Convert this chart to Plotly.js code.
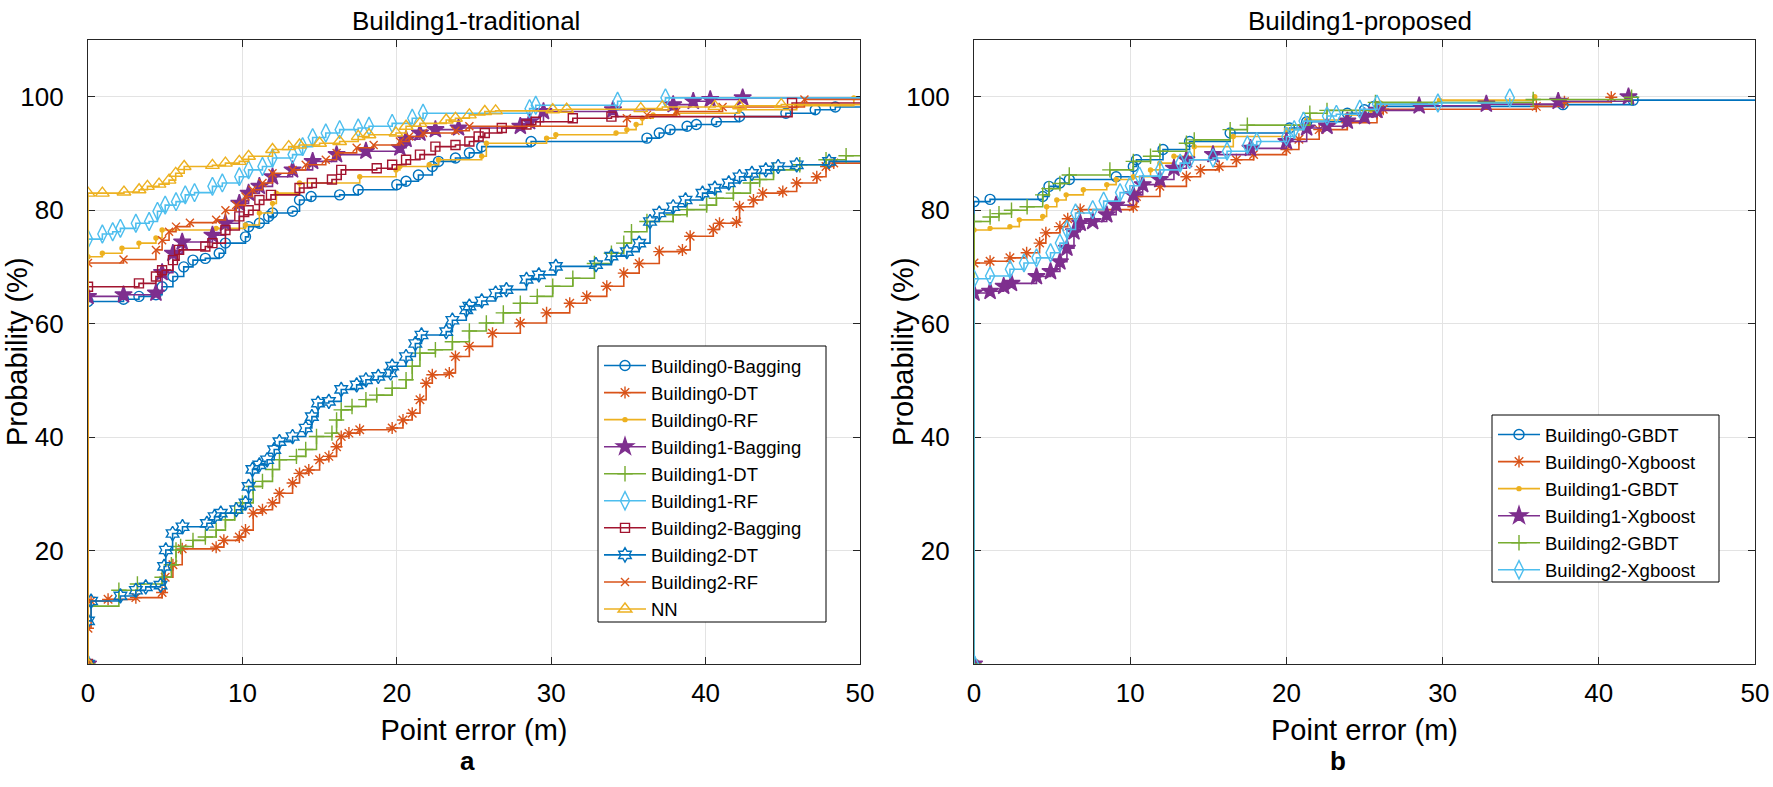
<!DOCTYPE html>
<html>
<head>
<meta charset="utf-8">
<script src="https://cdn.plot.ly/plotly-3.0.1.min.js"></script>
<style>
  html, body { margin: 0; padding: 0; background: #fff; }
  #chart { width: 1773px; height: 787px; }
</style>
</head>
<body>
<div id="chart"></div>
<script>
// empirical CDFs of point error (m) -> probability (%), read off the figure
// ---- a) Building1-traditional ----
const errB0Bagging = [0, 0, 2.3, 3.3, 4.4, 4.8, 5.5, 6.2, 6.8, 7.6, 8.5, 8.9, 10.2, 10.4, 11.1, 11.7, 11.95, 13.25, 13.7, 14.45, 16.3, 17.5, 20.0, 20.6, 21.4, 22.3, 22.7, 23.8, 24.7, 25.5, 28.7, 36.2, 37.0, 37.7, 38.8, 39.4, 40.7, 42.2, 45.2, 47.1, 48.4, 55];
const probB0Bagging = [0, 63.9, 64.3, 64.8, 65.1, 66.5, 68.3, 70.0, 71.2, 71.5, 72.4, 74.2, 75.3, 77.1, 77.7, 78.9, 79.5, 79.8, 81.8, 82.4, 82.7, 83.6, 84.5, 85.1, 86.2, 87.7, 88.6, 89.2, 90.1, 91.2, 92.1, 92.7, 93.6, 94.2, 94.8, 95.1, 95.6, 96.5, 97.1, 97.7, 98.2, 98.2];

const errB0DT = [0, 0, 0.2, 1.3, 3.1, 4.8, 5.0, 5.5, 6.1, 8.3, 8.8, 9.8, 10.2, 10.7, 11.3, 11.95, 12.4, 13.25, 13.7, 14.3, 15.0, 15.6, 16.1, 16.4, 16.9, 17.6, 19.7, 20.4, 21.0, 21.5, 21.9, 22.3, 23.4, 23.8, 24.7, 26.2, 28.0, 29.7, 31.2, 32.3, 33.6, 34.7, 35.7, 37.0, 38.5, 39.0, 40.5, 40.9, 42.0, 42.2, 43.1, 43.7, 45.0, 45.9, 47.2, 47.8, 48.3, 55];
const probB0DT = [0, 6.3, 11.1, 11.4, 11.7, 12.6, 15.3, 17.5, 20.3, 20.6, 21.8, 22.4, 23.6, 26.6, 27.2, 28.4, 30.1, 31.9, 33.6, 34.2, 36.0, 36.6, 38.3, 40.1, 40.7, 41.3, 41.6, 43.0, 44.2, 46.6, 49.5, 51.0, 51.3, 54.2, 56.0, 58.3, 60.1, 61.9, 63.6, 64.8, 66.6, 68.9, 70.6, 72.7, 73.0, 75.4, 76.6, 77.7, 77.9, 80.6, 81.8, 83.0, 83.3, 84.8, 85.9, 87.7, 88.3, 88.3];

const errB0RF = [0, 0, 0.93, 2.2, 3.3, 4.4, 4.8, 8.3, 10.2, 11.1, 11.95, 12.2, 13.7, 17.6, 19.95, 20.2, 22.1, 22.7, 25.5, 25.8, 29.7, 30.3, 34.2, 34.9, 35.5, 35.9, 36.6, 38.1, 42.2, 45.9, 49.6, 55];
const probB0RF = [0, 71.8, 72.4, 73.3, 74.2, 75.1, 76.5, 76.8, 77.4, 79.5, 81.2, 83.0, 84.8, 85.9, 87.1, 87.7, 88.0, 88.9, 89.5, 91.8, 92.7, 93.3, 93.6, 94.2, 95.1, 96.2, 96.8, 97.1, 97.7, 98.4, 99.8, 99.8];

const errB1Bagging = [0, 0, 2.3, 4.4, 4.8, 5.5, 6.1, 8.06, 8.9, 9.8, 10.4, 11.1, 11.95, 13.25, 14.55, 16.1, 18.0, 20.2, 20.6, 21.5, 22.5, 24.0, 28.0, 28.6, 29.5, 34.0, 37.9, 39.2, 40.3, 42.4, 55];
const probB1Bagging = [0, 64.8, 65.1, 65.4, 69.0, 72.4, 74.4, 75.6, 77.7, 81.2, 83.0, 84.2, 85.9, 87.1, 88.6, 89.8, 90.4, 91.0, 92.5, 93.6, 94.2, 94.5, 94.8, 95.6, 97.4, 97.7, 98.6, 99.2, 99.5, 99.8, 99.8];

const errB1DT = [0, 0, 2.0, 3.2, 4.8, 5.4, 5.7, 6.0, 6.8, 7.6, 8.3, 8.9, 9.5, 10.0, 10.7, 11.3, 11.95, 12.4, 13.5, 14.1, 14.8, 15.8, 16.1, 16.4, 17.1, 18.0, 18.7, 19.7, 20.6, 21.0, 21.5, 22.5, 23.6, 24.7, 25.8, 26.9, 28.0, 29.1, 30.1, 31.4, 32.8, 33.9, 34.7, 35.2, 36.2, 37.9, 38.8, 40.07, 40.7, 41.8, 42.9, 43.5, 44.4, 46.1, 47.8, 49.1, 55];
const probB1DT = [0, 10.2, 13.0, 14.1, 15.3, 17.5, 20.1, 20.7, 21.8, 22.4, 23.6, 25.4, 26.6, 28.4, 31.3, 32.2, 34.3, 36.0, 36.6, 37.8, 40.1, 40.7, 43.0, 44.8, 45.4, 46.6, 47.4, 48.6, 50.1, 52.5, 54.8, 55.4, 56.8, 58.7, 60.1, 61.9, 63.6, 64.8, 66.6, 68.0, 70.6, 72.4, 74.2, 76.2, 78.0, 79.2, 80.1, 80.9, 82.1, 83.0, 84.8, 85.4, 87.1, 88.0, 88.9, 89.6, 89.6];

const errB1RF = [0, 0, 0.93, 1.6, 2.1, 3.1, 3.96, 4.5, 5.0, 5.7, 6.3, 6.9, 8.06, 8.7, 9.8, 10.4, 11.3, 11.95, 13.25, 13.9, 14.55, 15.4, 16.3, 17.5, 18.2, 19.7, 21.0, 21.7, 28.6, 29.0, 34.3, 37.4, 55];
const probB1RF = [0, 74.9, 75.8, 76.2, 76.8, 77.7, 78.0, 79.8, 80.9, 81.5, 82.7, 83.1, 84.2, 84.8, 85.9, 87.1, 87.7, 89.2, 89.8, 91.2, 92.8, 93.6, 94.2, 94.5, 94.8, 95.3, 96.2, 97.1, 97.9, 98.5, 99.2, 99.8, 99.8];

const errB2Bagging = [0, 0, 3.3, 4.4, 4.8, 5.5, 5.9, 7.6, 8.06, 8.9, 9.8, 10.4, 11.1, 11.85, 13.7, 14.5, 15.8, 16.4, 18.7, 19.7, 20.6, 21.5, 22.5, 23.8, 24.7, 25.3, 25.7, 26.8, 28.4, 29.0, 31.4, 33.9, 45.6, 55];
const probB2Bagging = [0, 66.5, 67.1, 68.3, 69.4, 71.2, 73.0, 73.6, 74.2, 76.5, 78.9, 80.0, 81.8, 82.7, 83.9, 84.8, 85.4, 87.1, 87.4, 88.0, 88.9, 89.8, 91.2, 91.5, 92.1, 93.0, 93.6, 94.5, 95.1, 95.6, 96.2, 96.5, 98.9, 98.9];

const errB2DT = [0, 0, 0.2, 2.1, 3.1, 3.74, 4.7, 4.93, 5.04, 5.48, 6.12, 7.7, 8.2, 8.6, 9.6, 10.2, 10.4, 10.65, 11.1, 11.6, 12.06, 12.4, 13.25, 14.1, 14.5, 14.9, 15.6, 16.4, 17.4, 18.0, 18.8, 19.6, 19.7, 20.6, 21.2, 21.6, 23.2, 23.6, 24.5, 24.7, 25.5, 26.4, 27.1, 28.4, 29.2, 30.3, 32.9, 33.9, 34.9, 35.7, 36.4, 37.0, 37.9, 38.7, 39.8, 40.6, 41.5, 42.2, 43.0, 43.9, 44.7, 45.9, 48.0, 55];
const probB2DT = [0, 7.6, 11.1, 12.0, 13.0, 13.6, 13.9, 17.2, 20.1, 23.0, 24.2, 24.8, 26.0, 26.6, 27.2, 28.4, 31.3, 34.3, 35.1, 36.0, 37.8, 39.2, 40.1, 41.6, 43.6, 46.0, 46.3, 48.4, 49.2, 50.1, 50.7, 51.3, 52.5, 54.2, 56.5, 58.0, 58.6, 60.6, 62.4, 63.1, 64.0, 65.4, 66.0, 67.8, 68.6, 70.1, 70.4, 71.9, 72.7, 74.2, 78.0, 79.5, 80.6, 81.8, 83.0, 83.9, 84.8, 85.9, 86.5, 87.1, 87.7, 88.0, 88.6, 88.6];

const errB2RF = [0, 0, 2.3, 4.4, 4.8, 5.25, 5.7, 6.6, 8.3, 8.9, 9.6, 10.2, 10.65, 11.3, 11.95, 13.25, 14.1, 15.4, 16.1, 17.4, 18.5, 20.2, 20.8, 21.7, 23.8, 24.7, 34.9, 36.2, 38.1, 41.1, 46.4, 55];
const probB2RF = [0, 70.7, 71.3, 73.0, 74.7, 76.2, 77.1, 77.8, 78.3, 80.0, 80.9, 82.4, 83.6, 84.8, 86.5, 87.1, 88.0, 88.9, 90.1, 91.0, 91.5, 92.1, 93.0, 93.6, 94.0, 94.8, 96.2, 96.8, 97.4, 98.2, 99.5, 99.5];

const errNN = [0, 0, 0.93, 2.33, 3.31, 3.85, 4.6, 5.25, 5.68, 6.23, 8.06, 8.9, 9.8, 10.4, 11.95, 13.0, 13.7, 15.0, 16.3, 17.5, 18.2, 19.95, 20.6, 21.5, 23.2, 23.8, 24.7, 25.7, 26.4, 30.1, 31.0, 35.8, 37.2, 40.6, 42.2, 44.9, 55];
const probNN = [0, 83.0, 83.0, 83.2, 83.6, 84.2, 84.6, 85.3, 86.5, 87.7, 87.9, 88.3, 88.6, 89.5, 90.7, 91.2, 91.5, 91.8, 92.1, 93.0, 93.3, 93.6, 94.8, 95.3, 95.9, 96.2, 96.8, 97.4, 97.5, 97.7, 97.8, 97.9, 98.2, 98.3, 98.4, 98.6, 98.6];

// ---- b) Building1-proposed ----
const errG0GBDT = [0, 0, 1.03, 4.4, 4.8, 5.5, 6.1, 9.1, 10.2, 10.4, 12.1, 13.8, 16.4, 20.2, 21.3, 23.9, 25.0, 25.6, 37.7, 42.2, 55];
const probG0GBDT = [0, 81.5, 81.9, 82.4, 84.2, 84.8, 85.4, 85.9, 87.7, 88.9, 90.7, 92.1, 93.6, 94.5, 95.6, 97.1, 97.7, 98.3, 98.6, 99.4, 99.4];

const errG0Xgb = [0, 0, 1.03, 2.3, 3.37, 4.2, 4.6, 5.5, 6.0, 6.8, 10.2, 10.4, 11.9, 13.6, 14.5, 15.7, 16.8, 17.9, 20.0, 20.8, 22.1, 23.9, 25.8, 26.2, 36.0, 37.8, 40.8];
const probG0Xgb = [0, 70.7, 71.0, 71.6, 72.5, 74.2, 76.0, 77.1, 78.5, 80.1, 80.6, 82.4, 84.2, 85.9, 87.1, 87.7, 88.9, 89.8, 90.7, 92.5, 94.2, 95.4, 97.1, 97.8, 98.3, 99.1, 99.9];

const errG1GBDT = [0, 0, 1.03, 2.3, 2.9, 4.4, 4.65, 5.3, 5.9, 7.0, 8.5, 9.1, 10.2, 11.3, 11.9, 12.8, 14.1, 16.6, 20.0, 21.3, 23.9, 25.4, 26.0, 29.8, 35.9];
const probG1GBDT = [0, 76.5, 76.8, 77.1, 78.3, 78.9, 80.6, 81.8, 82.7, 83.6, 84.5, 85.4, 85.9, 87.1, 88.3, 89.5, 91.2, 93.0, 94.2, 95.9, 96.8, 97.7, 98.9, 99.4, 100];

const errG1Xgb = [0, 0, 1.03, 1.9, 2.4, 4.0, 4.9, 5.5, 5.95, 6.4, 6.8, 7.6, 8.5, 9.1, 10.2, 10.8, 11.9, 12.8, 13.6, 15.3, 17.7, 20.0, 21.3, 22.6, 23.9, 25.0, 25.8, 28.5, 32.8, 37.4, 41.9];
const probG1Xgb = [0, 65.4, 65.7, 66.6, 67.1, 68.3, 69.2, 70.9, 73.3, 76.2, 77.7, 78.0, 79.2, 80.9, 82.7, 84.5, 85.4, 87.4, 88.9, 89.8, 90.9, 92.1, 94.5, 94.8, 95.7, 96.5, 97.6, 98.4, 98.7, 99.2, 100];

const errG2GBDT = [0, 0, 1.03, 1.6, 2.4, 3.4, 4.4, 4.8, 5.5, 6.1, 8.7, 10.2, 11.3, 11.9, 13.6, 14.1, 16.4, 17.5, 21.5, 22.6, 25.7, 35.8, 42.1];
const probG2GBDT = [0, 78.0, 78.8, 79.4, 80.0, 80.6, 82.7, 83.8, 84.7, 86.2, 87.1, 88.6, 89.5, 90.4, 91.8, 92.4, 94.2, 95.0, 97.1, 97.6, 99.0, 99.5, 99.9];

const errG2Xgb = [0, 0, 1.03, 2.3, 3.2, 4.0, 4.9, 5.5, 5.95, 6.5, 7.6, 8.3, 9.35, 9.98, 10.6, 11.9, 13.2, 13.8, 15.3, 16.2, 17.5, 18.1, 20.0, 20.5, 21.1, 22.6, 23.2, 24.7, 25.8, 29.7, 34.3];
const probG2Xgb = [0, 67.9, 68.4, 69.6, 70.7, 71.6, 72.5, 74.2, 76.6, 79.5, 80.1, 81.6, 83.1, 84.3, 86.0, 87.1, 88.3, 88.9, 89.2, 90.4, 91.5, 92.1, 93.0, 94.2, 95.7, 96.6, 96.9, 97.8, 98.7, 98.9, 99.8];

// matlab default colour order
const C = {blue: "#0072BD", orange: "#D95319", yellow: "#EDB120", purple: "#7E2F8E",
           green: "#77AC30", cyan: "#4DBEEE", red: "#A2142F"};

function cdfTrace(name, x, y, color, symbol, size, axis, legend) {
    return {
        x: x, y: y, name: name,
        type: "scatter", mode: "lines+markers",
        line: {shape: "hv", color: color, width: 1.6},
        marker: {symbol: symbol, size: size, color: color, line: {color: color, width: 1.4}},
        xaxis: axis === 2 ? "x2" : "x",
        yaxis: axis === 2 ? "y2" : "y",
        legend: legend
    };
}

const traces = [
    cdfTrace("Building0-Bagging", errB0Bagging, probB0Bagging, C.blue, "circle-open", 10, 1, "legend"),
    cdfTrace("Building0-DT", errB0DT, probB0DT, C.orange, "asterisk-open", 10, 1, "legend"),
    cdfTrace("Building0-RF", errB0RF, probB0RF, C.yellow, "circle", 4, 1, "legend"),
    cdfTrace("Building1-Bagging", errB1Bagging, probB1Bagging, C.purple, "star", 13, 1, "legend"),
    cdfTrace("Building1-DT", errB1DT, probB1DT, C.green, "cross-thin-open", 11, 1, "legend"),
    cdfTrace("Building1-RF", errB1RF, probB1RF, C.cyan, "diamond-tall-open", 13, 1, "legend"),
    cdfTrace("Building2-Bagging", errB2Bagging, probB2Bagging, C.red, "square-open", 9, 1, "legend"),
    cdfTrace("Building2-DT", errB2DT, probB2DT, C.blue, "hexagram-open", 11, 1, "legend"),
    cdfTrace("Building2-RF", errB2RF, probB2RF, C.orange, "x-thin-open", 8, 1, "legend"),
    cdfTrace("NN", errNN, probNN, C.yellow, "triangle-up-open", 12, 1, "legend"),

    cdfTrace("Building0-GBDT", errG0GBDT, probG0GBDT, C.blue, "circle-open", 10, 2, "legend2"),
    cdfTrace("Building0-Xgboost", errG0Xgb, probG0Xgb, C.orange, "asterisk-open", 10, 2, "legend2"),
    cdfTrace("Building1-GBDT", errG1GBDT, probG1GBDT, C.yellow, "circle", 4, 2, "legend2"),
    cdfTrace("Building1-Xgboost", errG1Xgb, probG1Xgb, C.purple, "star", 13, 2, "legend2"),
    cdfTrace("Building2-GBDT", errG2GBDT, probG2GBDT, C.green, "cross-thin-open", 11, 2, "legend2"),
    cdfTrace("Building2-Xgboost", errG2Xgb, probG2Xgb, C.cyan, "diamond-tall-open", 13, 2, "legend2")
];

const W = 1773, H = 787;
const px = v => v / W;
const py = v => 1 - v / H;
const FONT = "Liberation Sans, Arial, Helvetica, sans-serif";
const INK = "#262626";

function xAxis(domain, anchor) {
    return {
        domain: domain, anchor: anchor, range: [0, 50], dtick: 10, tick0: 0,
        showline: true, linecolor: INK, linewidth: 1.2, mirror: "ticks", layer: "below traces",
        ticks: "inside", ticklen: 7, tickcolor: INK, tickwidth: 1,
        showgrid: true, gridcolor: "#e3e3e3", gridwidth: 1, zeroline: false,
        tickfont: {family: FONT, size: 26, color: "#000"},
        ticklabelstandoff: 6,
        title: {text: "Point error (m)", font: {family: FONT, size: 29, color: "#000"}, standoff: 12}
    };
}
function yAxis(domain, anchor) {
    return {
        domain: domain, anchor: anchor, range: [0, 110],
        tickvals: [20, 40, 60, 80, 100],
        showline: true, linecolor: INK, linewidth: 1.2, mirror: "ticks", layer: "below traces",
        ticks: "inside", ticklen: 7, tickcolor: INK, tickwidth: 1,
        showgrid: true, gridcolor: "#e3e3e3", gridwidth: 1, zeroline: false,
        tickfont: {family: FONT, size: 26, color: "#000"},
        ticklabelstandoff: 18
    };
}

const yDom = [py(664), py(40)];

// legend boxes are drawn as shapes so they can be as wide as in the figure
const legendStyle = {
    bgcolor: "rgba(0,0,0,0)", borderwidth: 0,
    font: {family: FONT, size: 18.5, color: "#000"},
    xanchor: "left", yanchor: "top", itemwidth: 42, tracegroupgap: 0
};

function legendBox(x0, y0, x1, y1) {
    return {type: "rect", xref: "paper", yref: "paper", layer: "above",
            x0: px(x0), x1: px(x1), y0: py(y1), y1: py(y0),
            fillcolor: "#ffffff", line: {color: "#000", width: 1}};
}

function label(text, x, y, size, angle) {
    return {text: text, x: px(x), y: py(y), xref: "paper", yref: "paper",
            xanchor: "center", yanchor: "middle", showarrow: false, textangle: angle || 0,
            font: {family: FONT, size: size, color: "#000"}};
}

const layout = {
    width: W, height: H,
    margin: {l: 0, r: 0, t: 0, b: 0},
    paper_bgcolor: "#fff", plot_bgcolor: "#fff",
    font: {family: FONT},
    xaxis: xAxis([px(88), px(860)], "y"),
    yaxis: yAxis(yDom, "x"),
    xaxis2: xAxis([px(974), px(1755)], "y2"),
    yaxis2: yAxis(yDom, "x2"),
    legend: Object.assign({x: px(599), y: py(347)}, legendStyle),
    legend2: Object.assign({x: px(1493), y: py(416)}, legendStyle),
    shapes: [legendBox(598, 346, 826, 622), legendBox(1492, 415, 1719, 582)],
    annotations: [
        label("Building1-traditional", 466, 21, 26),
        label("Building1-proposed", 1360, 21, 26),
        label("Probability (%)", 17, 352, 29, -90),
        label("Probability (%)", 903, 352, 29, -90),
        label("<b>a</b>", 467, 761, 26),
        label("<b>b</b>", 1338, 761, 26)
    ]
};

Plotly.newPlot("chart", traces, layout, {displayModeBar: false, responsive: false});
</script>
</body>
</html>
